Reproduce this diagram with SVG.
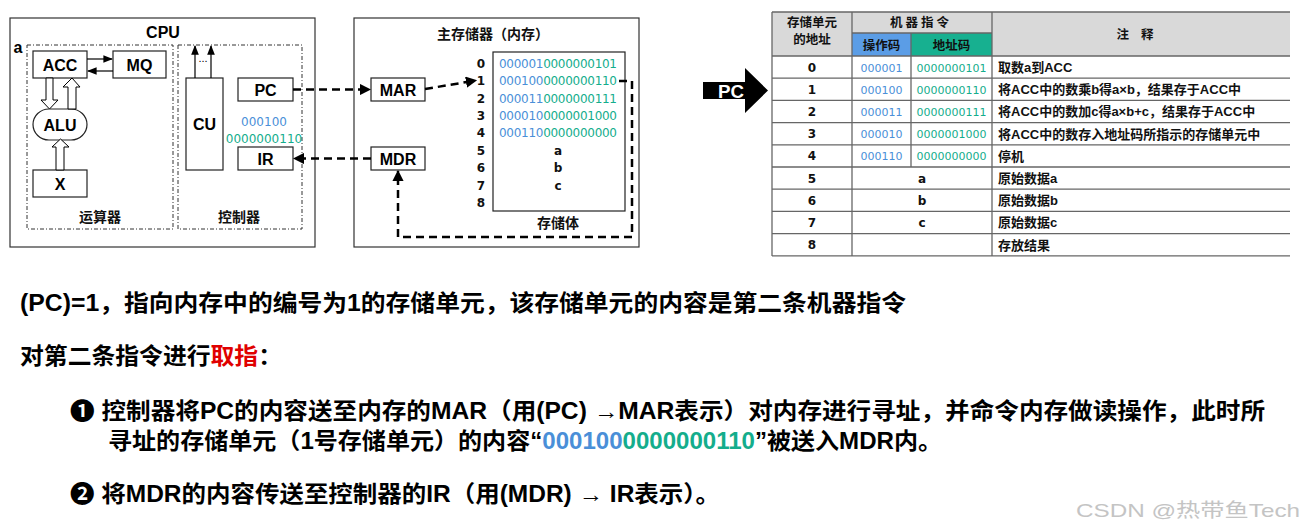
<svg xmlns="http://www.w3.org/2000/svg" width="1304" height="530" viewBox="0 0 1304 530">
<style>
  .box{fill:#fff;stroke:#222;stroke-width:1.2}
  .outer{fill:#fff;stroke:#333;stroke-width:1.2}
  .dd{fill:none;stroke:#333;stroke-width:1;stroke-dasharray:4 2 1 2}
  .lbl{font-family:"Liberation Sans","Noto Sans CJK SC",sans-serif;font-weight:bold;font-size:16px;fill:#000;text-anchor:middle}
  .cn{font-family:"Liberation Sans","Noto Sans CJK SC",sans-serif;font-weight:bold;font-size:14px;fill:#111;text-anchor:middle}
  .num{font-family:"DejaVu Sans","Noto Sans CJK SC",sans-serif;font-weight:bold;font-size:12px;fill:#111;text-anchor:middle}
  .bin{font-family:"DejaVu Sans",sans-serif;font-size:12px}
  .bl{fill:#4a8fd8}
  .tl{fill:#14ad8c}
  .dash{fill:none;stroke:#000;stroke-width:2.5;stroke-dasharray:8 5}
  .thin{fill:none;stroke:#000;stroke-width:1.2}
  .hol{fill:#fff;stroke:#000;stroke-width:1}
  .tline{stroke:#666;stroke-width:1.3}
  .th{font-family:"Liberation Sans","Noto Sans CJK SC",sans-serif;font-weight:bold;font-size:12.5px;fill:#111;text-anchor:middle}
  .td{font-family:"DejaVu Sans","Noto Sans CJK SC",sans-serif;font-size:11px;text-anchor:middle}
  .tc{font-family:"Liberation Sans","Noto Sans CJK SC",sans-serif;font-weight:bold;font-size:13px;fill:#111}
  .big{font-family:"Liberation Sans","Noto Sans CJK SC",sans-serif;font-weight:bold;font-size:23px;fill:#000}
</style>
<defs>
  <marker id="ah" viewBox="0 0 10 10" refX="9" refY="5" markerWidth="4.5" markerHeight="4.5" orient="auto-start-reverse" markerUnits="strokeWidth">
    <path d="M0,0 L10,5 L0,10 z" fill="#000"/>
  </marker>
  <marker id="ahs" viewBox="0 0 10 10" refX="9" refY="5" markerWidth="8" markerHeight="8" orient="auto" markerUnits="strokeWidth">
    <path d="M0,1 L10,5 L0,9 z" fill="#000"/>
  </marker>
</defs>

<!-- CPU -->
<g id="cpu">
  <rect class="outer" x="10" y="18" width="305" height="229"/>
  <text class="lbl" x="163" y="38" font-size="17">CPU</text>
  <text class="lbl" x="18" y="53" font-size="16">a</text>
  <rect class="dd" x="27" y="45" width="146" height="184"/>
  <rect class="dd" x="178" y="45" width="124" height="184"/>
  <text class="cn" x="100" y="222">运算器</text>
  <text class="cn" x="239" y="222">控制器</text>
</g>
<g id="acc"><rect class="box" x="33" y="51" width="54" height="27"/><text class="lbl" x="60" y="70.5">ACC</text></g>
<g id="mq"><rect class="box" x="113" y="51" width="53" height="27"/><text class="lbl" x="139.5" y="70.5">MQ</text></g>
<g id="alu"><rect class="box" x="33" y="109" width="54" height="31" rx="16" ry="15.5"/><text class="lbl" x="60" y="130.5">ALU</text></g>
<g id="x"><rect class="box" x="33" y="170" width="54" height="27"/><text class="lbl" x="60" y="189.5">X</text></g>
<g id="cu"><rect class="box" x="186" y="78" width="37" height="92"/><text class="lbl" x="204.5" y="130">CU</text></g>
<g id="pc"><rect class="box" x="238" y="78" width="55" height="23"/><text class="lbl" x="265.5" y="95.5">PC</text></g>
<g id="ir"><rect class="box" x="238" y="147" width="55" height="23"/><text class="lbl" x="265.5" y="164.5">IR</text></g>
<g id="ir-content">
  <text class="bin bl" x="264" y="126" text-anchor="middle" font-size="12">000100</text>
  <text class="bin tl" x="264" y="143" text-anchor="middle" font-size="12">0000000110</text>
</g>

<!-- Main memory -->
<g id="memory">
  <rect class="outer" x="354" y="18" width="285" height="229"/>
  <text class="cn" x="493" y="39" font-size="15">主存储器（内存）</text>
</g>
<g id="mar"><rect class="box" x="371" y="78" width="54" height="23"/><text class="lbl" x="398" y="95.5">MAR</text></g>
<g id="mdr"><rect class="box" x="371" y="147" width="54" height="23"/><text class="lbl" x="398" y="164.5">MDR</text></g>
<g id="storage">
  <rect class="box" x="493" y="52" width="132" height="159"/>
  <text class="cn" x="558" y="228">存储体</text>
  <text class="num" x="481" y="67.5">0</text>
  <text class="num" x="481" y="85">1</text>
  <text class="num" x="481" y="102.5">2</text>
  <text class="num" x="481" y="120">3</text>
  <text class="num" x="481" y="137">4</text>
  <text class="num" x="481" y="154.5">5</text>
  <text class="num" x="481" y="172">6</text>
  <text class="num" x="481" y="189.5">7</text>
  <text class="num" x="481" y="207">8</text>
  <text class="bin" x="499" y="67.5" textLength="118"><tspan class="bl">000001</tspan><tspan class="tl">0000000101</tspan></text>
  <text class="bin" x="499" y="85" textLength="118"><tspan class="bl">000100</tspan><tspan class="tl">0000000110</tspan></text>
  <text class="bin" x="499" y="102.5" textLength="118"><tspan class="bl">000011</tspan><tspan class="tl">0000000111</tspan></text>
  <text class="bin" x="499" y="120" textLength="118"><tspan class="bl">000010</tspan><tspan class="tl">0000001000</tspan></text>
  <text class="bin" x="499" y="137" textLength="118"><tspan class="bl">000110</tspan><tspan class="tl">0000000000</tspan></text>
  <text class="num" x="558" y="154.5">a</text>
  <text class="num" x="558" y="172">b</text>
  <text class="num" x="558" y="189.5">c</text>
</g>

<!-- Connectors -->
<g id="connectors">
  <line class="thin" x1="87" y1="59" x2="112" y2="59" marker-end="url(#ahs)"/>
  <line class="thin" x1="113" y1="71" x2="88" y2="71" marker-end="url(#ahs)"/>
  <polygon class="hol" points="46,78 53,78 53,100 58,100 49.5,109 41,100 46,100"/>
  <polygon class="hol" points="68,109 76,109 76,87 80,87 72,78 63,87 68,87"/>
  <polygon class="hol" points="56,170 64,170 64,147 69,147 60.5,139 52,147 56,147"/>
  <line class="thin" x1="195" y1="78" x2="195" y2="46" marker-end="url(#ahs)"/>
  <line class="thin" x1="211" y1="78" x2="211" y2="46" marker-end="url(#ahs)"/>
  <text x="203" y="62" font-family="Liberation Sans, sans-serif" font-size="11" text-anchor="middle" fill="#000">...</text>
  <line class="dash" x1="293" y1="89.5" x2="370" y2="89.5" marker-end="url(#ah)"/>
  <line class="dash" x1="371" y1="158.5" x2="294" y2="158.5" marker-end="url(#ah)"/>
  <line class="dash" x1="425" y1="89" x2="476" y2="80.5" marker-end="url(#ah)"/>
  <polyline class="dash" points="619,81 632,81 632,237 398,237 398,171" marker-end="url(#ah)"/>
</g>

<!-- PC big arrow -->
<g id="pc-pointer">
  <polygon points="703,82 745,82 745,68 768,90.5 745,113 745,99 703,99" fill="#000"/>
  <text x="731" y="98" font-family="Liberation Sans, sans-serif" font-weight="bold" font-size="19" fill="#fff" text-anchor="middle" textLength="26" lengthAdjust="spacingAndGlyphs">PC</text>
</g>

<!-- Table -->
<g id="table">
  <rect x="772" y="12" width="518" height="44" fill="#d9d9d9"/>
  <rect x="852" y="33" width="59" height="23" fill="#5b9de6"/>
  <rect x="911" y="33" width="81" height="23" fill="#17b090"/>
  <line class="tline" x1="772" y1="12" x2="1290" y2="12"/>
  <line class="tline" x1="852" y1="33" x2="992" y2="33"/>
  <line class="tline" x1="772" y1="56" x2="1290" y2="56"/>
  <line class="tline" x1="772" y1="78.2" x2="1290" y2="78.2"/>
  <line class="tline" x1="772" y1="100.4" x2="1290" y2="100.4"/>
  <line class="tline" x1="772" y1="122.6" x2="1290" y2="122.6" stroke-width="2"/>
  <line class="tline" x1="772" y1="144.8" x2="1290" y2="144.8"/>
  <line class="tline" x1="772" y1="167" x2="1290" y2="167" stroke-width="2"/>
  <line class="tline" x1="772" y1="189.2" x2="1290" y2="189.2"/>
  <line class="tline" x1="772" y1="211.4" x2="1290" y2="211.4"/>
  <line class="tline" x1="772" y1="233.6" x2="1290" y2="233.6" stroke-width="2"/>
  <line class="tline" x1="772" y1="255.8" x2="1290" y2="255.8" stroke-width="2"/>
  <line class="tline" x1="772" y1="12" x2="772" y2="256"/>
  <line class="tline" x1="852" y1="12" x2="852" y2="256"/>
  <line class="tline" x1="911" y1="33" x2="911" y2="167"/>
  <line class="tline" x1="992" y1="12" x2="992" y2="256"/>
  <text class="th" x="812" y="27">存储单元</text>
  <text class="th" x="812" y="44">的地址</text>
  <text class="th" x="921" y="27" letter-spacing="3">机器指令</text>
  <text class="th" x="881.5" y="50" fill="#fff">操作码</text>
  <text class="th" x="951.5" y="50" fill="#fff">地址码</text>
  <text class="th" x="1141" y="39" letter-spacing="12">注释</text>
  <g class="num">
    <text x="812" y="71.5">0</text><text x="812" y="93.7">1</text><text x="812" y="115.9">2</text>
    <text x="812" y="138.1">3</text><text x="812" y="160.3">4</text><text x="812" y="182.5">5</text>
    <text x="812" y="204.7">6</text><text x="812" y="226.9">7</text><text x="812" y="249.1">8</text>
  </g>
  <g class="td">
    <text class="bl" x="881.5" y="71.5">000001</text><text class="tl" x="951.5" y="71.5">0000000101</text>
    <text class="bl" x="881.5" y="93.7">000100</text><text class="tl" x="951.5" y="93.7">0000000110</text>
    <text class="bl" x="881.5" y="115.9">000011</text><text class="tl" x="951.5" y="115.9">0000000111</text>
    <text class="bl" x="881.5" y="138.1">000010</text><text class="tl" x="951.5" y="138.1">0000001000</text>
    <text class="bl" x="881.5" y="160.3">000110</text><text class="tl" x="951.5" y="160.3">0000000000</text>
  </g>
  <g class="num">
    <text x="922" y="182.5">a</text><text x="922" y="204.7">b</text><text x="922" y="226.9">c</text>
  </g>
  <g class="tc">
    <text x="998" y="72">取数a到ACC</text>
    <text x="998" y="94.2">将ACC中的数乘b得a×b，结果存于ACC中</text>
    <text x="998" y="116.4">将ACC中的数加c得a×b+c，结果存于ACC中</text>
    <text x="998" y="138.6">将ACC中的数存入地址码所指示的存储单元中</text>
    <text x="998" y="160.8">停机</text>
    <text x="998" y="183">原始数据a</text>
    <text x="998" y="205.2">原始数据b</text>
    <text x="998" y="227.4">原始数据c</text>
    <text x="998" y="249.6">存放结果</text>
  </g>
</g>

<!-- Explanation text -->
<g id="explanation">
  <text class="big" x="20" y="311" textLength="886" lengthAdjust="spacingAndGlyphs">(PC)=1，指向内存中的编号为1的存储单元，该存储单元的内容是第二条机器指令</text>
  <text class="big" x="20" y="364" textLength="262" lengthAdjust="spacingAndGlyphs">对第二条指令进行<tspan fill="#e00000">取指</tspan>：</text>
  <text class="big" x="70" y="419" textLength="1195" lengthAdjust="spacingAndGlyphs">❶ 控制器将PC的内容送至内存的MAR（用(PC) →MAR表示）对内存进行寻址，并命令内存做读操作，此时所</text>
  <text class="big" x="108" y="449" textLength="834" lengthAdjust="spacingAndGlyphs">寻址的存储单元（1号存储单元）的内容“<tspan fill="#4a8fd8">000100</tspan><tspan fill="#14ad8c">0000000110</tspan>”被送入MDR内。</text>
  <text class="big" x="70" y="502" textLength="650" lengthAdjust="spacingAndGlyphs">❷ 将MDR的内容传送至控制器的IR（用(MDR) → IR表示）。</text>
</g>
<text x="1076" y="517" font-family="Liberation Sans, Noto Sans CJK SC, sans-serif" font-size="19" fill="#c4c4c4" textLength="224" lengthAdjust="spacingAndGlyphs">CSDN @热带鱼Tech</text>
</svg>
